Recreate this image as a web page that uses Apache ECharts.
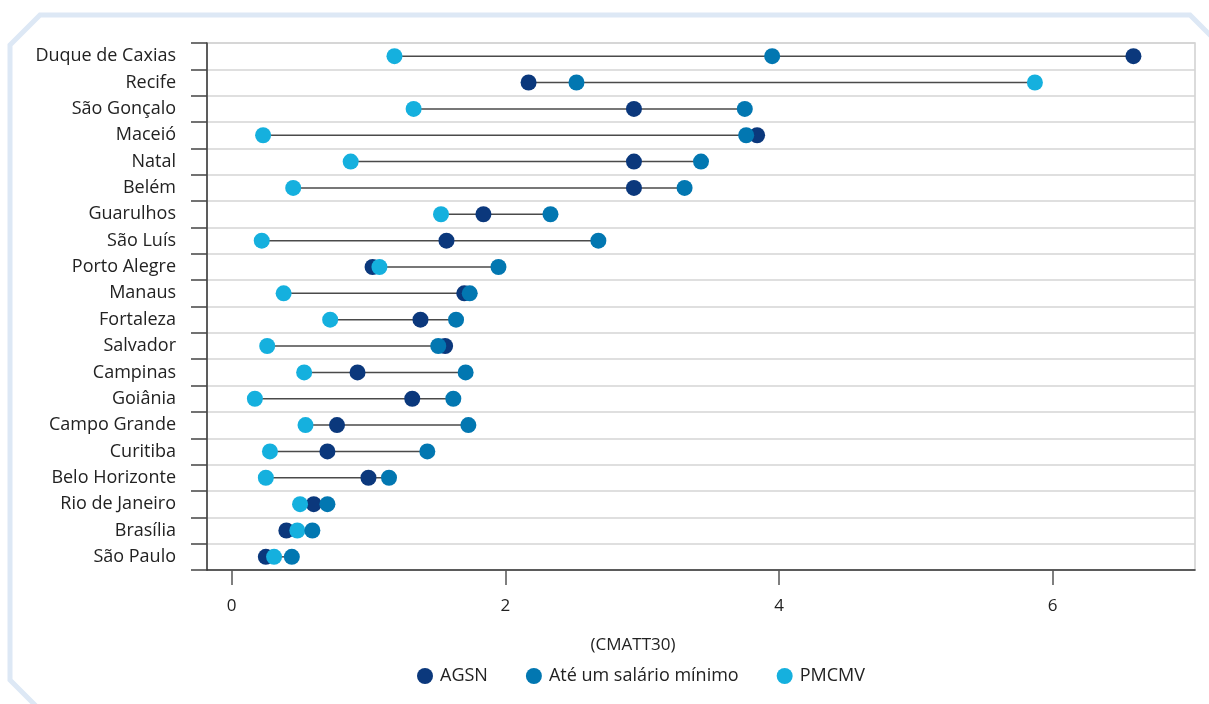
<!DOCTYPE html>
<html>
<head>
<meta charset="utf-8">
<script src="https://cdn.jsdelivr.net/npm/echarts@6/dist/echarts.min.js"></script>
<style>
html,body{margin:0;padding:0;background:#fff;}
#c{width:1209px;height:704px;}
</style>
</head>
<body>
<div id="c"></div>
<script>
const cities = ["Duque de Caxias","Recife","São Gonçalo","Maceió","Natal","Belém","Guarulhos","São Luís","Porto Alegre","Manaus","Fortaleza","Salvador","Campinas","Goiânia","Campo Grande","Curitiba","Belo Horizonte","Rio de Janeiro","Brasília","São Paulo"];
const agsn =    [6.59,2.17,2.94,3.84,2.94,2.94,1.84,1.57,1.03,1.70,1.38,1.56,0.92,1.32,0.77,0.70,1.00,0.60,0.40,0.25];
const ateUm =   [3.95,2.52,3.75,3.76,3.43,3.31,2.33,2.68,1.95,1.74,1.64,1.51,1.71,1.62,1.73,1.43,1.15,0.70,0.59,0.44];
const pmcmv =   [1.19,5.87,1.33,0.23,0.87,0.45,1.53,0.22,1.08,0.38,0.72,0.26,0.53,0.17,0.54,0.28,0.25,0.50,0.48,0.31];
const xTicks = [0,2,4,6];
const seriesNames = ["AGSN","Até um salário mínimo","PMCMV"];
const colors = ["#0b387c","#0277b1","#15b0de"];

const FONT = "Open Sans";
const chart = echarts.init(document.getElementById('c'));

const rangeData = cities.map((c,i)=>[Math.min(agsn[i],ateUm[i],pmcmv[i]), Math.max(agsn[i],ateUm[i],pmcmv[i]), i]);

function pts(arr){ return arr.map((v,i)=>[v, cities[i]]); }

const option = {
  animation:false,
  textStyle:{fontFamily:FONT},
  grid:{left:207,right:14,top:43,bottom:134,show:true,borderColor:'#cfcfcf',borderWidth:1.5,backgroundColor:'transparent'},
  xAxis:{
    type:'value', min:-0.18, max:7.04,
    axisLine:{show:true,onZero:false,lineStyle:{color:'#333',width:1.5}},
    axisTick:{show:true,length:15,lineStyle:{color:'#555',width:1.5},customValues:xTicks},
    axisLabel:{customValues:xTicks,margin:28,fontSize:17,color:'#222',fontFamily:FONT},
    splitLine:{show:false},
    name:'(CMATT30)', nameLocation:'middle', nameGap:67,
    nameTextStyle:{fontSize:17,color:'#222',fontFamily:FONT,padding:[0,136,0,0]}
  },
  yAxis:{
    type:'category', data:cities, inverse:true,
    axisLine:{show:true,onZero:false,lineStyle:{color:'#333',width:1.5}},
    axisTick:{show:true,length:16,lineStyle:{color:'#444',width:1.5}},
    axisLabel:{margin:31,fontSize:18,color:'#222',fontFamily:FONT},
    splitLine:{show:true,lineStyle:{color:'#d4d4d4',width:1.5}}
  },
  legend:{
    left:412, top:662, itemGap:38, itemWidth:16, itemHeight:16,
    icon:'circle',
    textStyle:{fontSize:18,color:'#222',fontFamily:FONT,padding:[0,0,0,2]},
    data:seriesNames
  },
  graphic:[{
    type:'polyline', silent:true, z:-10,
    shape:{points:[[44,714],[10,680],[10,45],[40,15],[1190,15],[1230,55]]},
    style:{stroke:'#dde8f5',lineWidth:5,fill:null,lineJoin:'miter'}
  }],
  series:[
    {
      type:'custom', name:'range', z:1,
      data:rangeData,
      encode:{x:[0,1],y:2},
      renderItem:function(params,api){
        const idx = api.value(2);
        const p1 = api.coord([api.value(0), idx]);
        const p2 = api.coord([api.value(1), idx]);
        return {type:'line',shape:{x1:p1[0],y1:p1[1],x2:p2[0],y2:p2[1]},style:{stroke:'#4a4a4a',lineWidth:1.5}};
      },
      silent:true
    },
    {type:'scatter',name:seriesNames[0],data:pts(agsn),symbolSize:16,itemStyle:{color:colors[0],opacity:1},z:2},
    {type:'scatter',name:seriesNames[2],data:pts(pmcmv),symbolSize:16,itemStyle:{color:colors[2],opacity:1},z:3},
    {type:'scatter',name:seriesNames[1],data:pts(ateUm),symbolSize:16,itemStyle:{color:colors[1],opacity:1},z:4}
  ]
};
chart.setOption(option);
</script>
</body>
</html>
